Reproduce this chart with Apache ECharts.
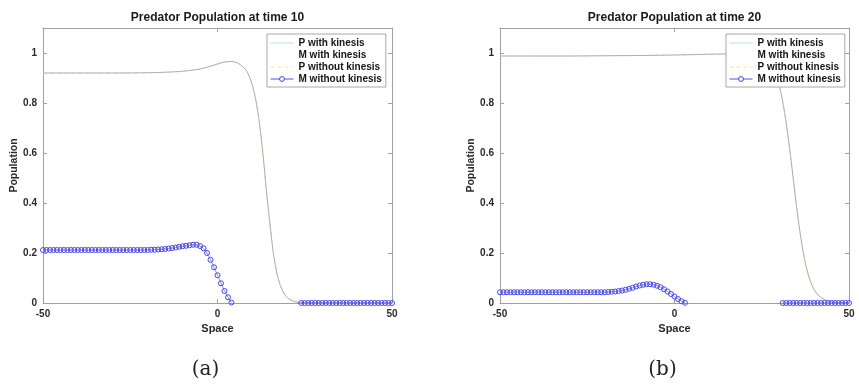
<!DOCTYPE html>
<html><head><meta charset="utf-8">
<script src="https://cdn.jsdelivr.net/npm/echarts@6/dist/echarts.min.js"></script>
<style>html,body{margin:0;padding:0;background:#fff}#c{width:859px;height:386px}</style>
</head><body><div id="c"></div>
<script>
// ---- data ----
const titles = ['Predator Population at time 10', 'Predator Population at time 20'];
const captions = ['(a)', '(b)'];
const seriesNames = ['P with kinesis', 'M with kinesis', 'P without kinesis', 'M without kinesis'];
const xTicks = [-50, 0, 50];
const yTicks = [0, 0.2, 0.4, 0.6, 0.8, 1];

// P curves (space, population)
const pX10 = [-50,-40,-30,-20,-15,-10,-5,-2,0,2,4,6,8,9,10,11,12,13,14,15,16,17,18,19,20,21,22,23,25,27,35,50];
const pY10 = [0.92,0.92,0.92,0.921,0.923,0.927,0.936,0.947,0.956,0.964,0.966,0.958,0.935,0.91,0.87,0.81,0.72,0.6,0.45,0.32,0.2,0.12,0.07,0.04,0.022,0.012,0.006,0.003,0.001,0,0,0];
const pX20 = [-50,-40,-30,-20,-10,0,10,20,24,26,27,28,29,30,31,32,33,34,35,36,37,38,39,40,41,42,43,44,46,48,50];
const pY20 = [0.988,0.988,0.988,0.989,0.99,0.992,0.995,0.998,1.0,0.99,0.975,0.95,0.915,0.87,0.806,0.72,0.617,0.5,0.383,0.28,0.194,0.13,0.085,0.054,0.034,0.022,0.014,0.008,0.003,0.001,0];

// M without kinesis sampled at space = -50..50 (step 1)
const m10 = [
 0.212,0.212,0.212,0.212,0.212,0.212,0.212,0.212,0.212,0.212,
 0.212,0.212,0.212,0.212,0.212,0.212,0.212,0.212,0.212,0.212,
 0.212,0.212,0.212,0.212,0.212,0.212,0.212,0.212,0.212,0.212,
 0.212,0.213,0.213,0.214,0.215,0.216,0.218,0.22,0.222,0.225,
 0.227,0.229,0.231,0.233,0.233,0.228,0.219,0.2,0.173,0.143,
 0.111,0.079,0.048,0.023,0.002,
 null,null,null,null,null,null,null,null,null,null,
 null,null,null,null,null,null,null,null,null,
 0,0,0,0,0,0,0,0,0,0,0,0,0,0,0,0,0,0,0,0,0,0,0,0,0,0,0
];
const m20 = [
 0.043,0.043,0.043,0.043,0.043,0.043,0.043,0.043,0.043,0.043,
 0.043,0.043,0.043,0.043,0.043,0.043,0.043,0.043,0.043,0.043,
 0.043,0.043,0.043,0.043,0.043,0.043,0.043,0.043,0.043,0.043,
 0.043,0.044,0.045,0.046,0.048,0.05,0.053,0.057,0.061,0.066,
 0.07,0.073,0.075,0.075,0.073,0.069,0.063,0.055,0.046,0.036,
 0.026,0.016,0.007,0.001,
 null,null,null,null,null,null,null,null,null,null,
 null,null,null,null,null,null,null,null,null,null,
 null,null,null,null,null,null,null,
 0,0,0,0,0,0,0,0,0,0,0,0,0,0,0,0,0,0,0,0
];
const space = m10.map((_, i) => i - 50);

// ---- chart ----
const chart = echarts.init(document.getElementById('c'), null, {renderer: 'canvas'});
const FONT = 'Liberation Sans, Arial, sans-serif';
const axisColor = '#a0a0a0';
const textColor = '#2a2a2a';
const plots = [
  {left: 43, width: 349, pX: pX10, pY: pY10, m: m10},
  {left: 500, width: 349, pX: pX20, pY: pY20, m: m20}
];
const gTop = 28, gHeight = 275;

const grids = [], xAxes = [], yAxes = [], series = [], legends = [], gElems = [];
plots.forEach((p, g) => {
  grids.push({left: p.left, top: gTop, width: p.width, height: gHeight, containLabel: false});
  const xBase = {type: 'value', min: -50, max: 50, interval: 50, gridIndex: g,
    splitLine: {show: false},
    axisLine: {show: true, onZero: false, lineStyle: {color: axisColor, width: 1}},
    axisTick: {show: true, inside: true, length: 4, lineStyle: {color: axisColor}}};
  xAxes.push(Object.assign({}, xBase, {position: 'bottom',
    name: 'Space', nameLocation: 'middle', nameGap: 20,
    nameTextStyle: {fontFamily: FONT, fontWeight: 'bold', fontSize: 11, color: textColor},
    axisLabel: {fontFamily: FONT, fontWeight: 'bold', fontSize: 10, color: textColor, margin: 6,
      formatter: v => xTicks.includes(v) ? String(v) : ''}}));
  xAxes.push(Object.assign({}, xBase, {position: 'top', axisLabel: {show: false}}));
  const yBase = {type: 'value', min: 0, max: 1.1, interval: 0.2, gridIndex: g,
    splitLine: {show: false},
    axisLine: {show: true, onZero: false, lineStyle: {color: axisColor, width: 1}},
    axisTick: {show: true, inside: true, length: 4, lineStyle: {color: axisColor},
      customValues: yTicks}};
  yAxes.push(Object.assign({}, yBase, {position: 'left',
    name: 'Population', nameLocation: 'middle', nameGap: 22, nameRotate: 90,
    nameTextStyle: {fontFamily: FONT, fontWeight: 'bold', fontSize: 10.5, color: textColor},
    axisLabel: {fontFamily: FONT, fontWeight: 'bold', fontSize: 10, color: textColor, margin: 6,
      customValues: yTicks, formatter: v => String(Math.round(v * 10) / 10)}}));
  yAxes.push(Object.assign({}, yBase, {position: 'right', axisLabel: {show: false}}));

  const xi = g * 2, yi = g * 2;
  const pData = p.pX.map((x, i) => [x, p.pY[i]]);
  const mData = space.map((x, i) => [x, p.m[i]]);
  series.push({name: 'P without kinesis', type: 'line', xAxisIndex: xi, yAxisIndex: yi, data: pData,
    showSymbol: false, symbol: 'none', smooth: 0.3, z: 2,
    lineStyle: {color: '#efe6a6', width: 1, type: [4, 3]}, itemStyle: {color: '#efe6a6'}});
  series.push({name: 'P with kinesis', type: 'line', xAxisIndex: xi, yAxisIndex: yi, data: pData,
    showSymbol: false, symbol: 'none', smooth: 0.3, z: 3,
    lineStyle: {color: '#a9b0b0', width: 1}, itemStyle: {color: '#a9b0b0'}});
  series.push({name: 'M with kinesis', type: 'line', xAxisIndex: xi, yAxisIndex: yi, data: mData,
    showSymbol: false, symbol: 'none', z: 2, connectNulls: false,
    lineStyle: {color: '#fbf6dc', width: 1}, itemStyle: {color: '#fbf6dc'}});
  series.push({name: 'M without kinesis', type: 'line', xAxisIndex: xi, yAxisIndex: yi, data: mData,
    symbol: 'circle', symbolSize: 5, showSymbol: true, connectNulls: false, z: 4,
    lineStyle: {color: '#5050e8', width: 0.6},
    itemStyle: {color: 'rgba(0,0,0,0)', borderColor: '#4848e6', borderWidth: 1}});

  legends.push({
    orient: 'vertical', left: g === 0 ? 267 : 726, top: 34,
    backgroundColor: '#fff', borderColor: '#a8a8a8', borderWidth: 1, borderRadius: 0,
    padding: [4, 4, 3, 3], itemGap: 2, itemWidth: 23, itemHeight: 6,
    textStyle: {fontFamily: FONT, fontWeight: 'bold', fontSize: 10, lineHeight: 10, color: '#151515'},
    selectedMode: false,
    data: [
      {name: 'P with kinesis', lineStyle: {color: '#b3e1ee', width: 1}, itemStyle: {opacity: 0}},
      {name: 'M with kinesis', lineStyle: {color: '#ffffff', width: 1}, itemStyle: {opacity: 0}},
      {name: 'P without kinesis', lineStyle: {color: '#f1e6a0', width: 1, type: [4, 3]}, itemStyle: {opacity: 0}},
      {name: 'M without kinesis', lineStyle: {color: '#5050e8', width: 1},
        itemStyle: {color: '#fff', borderColor: '#4040e6', borderWidth: 1}}
    ]
  });

  gElems.push({type: 'text', x: 0, y: 0, z: 10,
    style: {text: titles[g], x: p.left + p.width / 2, y: 18, align: 'center', verticalAlign: 'middle',
      textAlign: 'center', textVerticalAlign: 'middle',
      font: 'bold 12px ' + FONT, fill: '#1a1a1a'}});
  gElems.push({type: 'text', x: 0, y: 0, z: 10,
    style: {text: captions[g], x: p.left + p.width / 2 - 12, y: 370, align: 'center', verticalAlign: 'middle',
      textAlign: 'center', textVerticalAlign: 'middle',
      font: '20px "DejaVu Serif", serif', fill: '#222'}});
});

chart.setOption({
  animation: false,
  backgroundColor: '#fff',
  grid: grids,
  xAxis: xAxes,
  yAxis: yAxes,
  legend: legends,
  series: series,
  graphic: {elements: gElems}
});
</script></body></html>
